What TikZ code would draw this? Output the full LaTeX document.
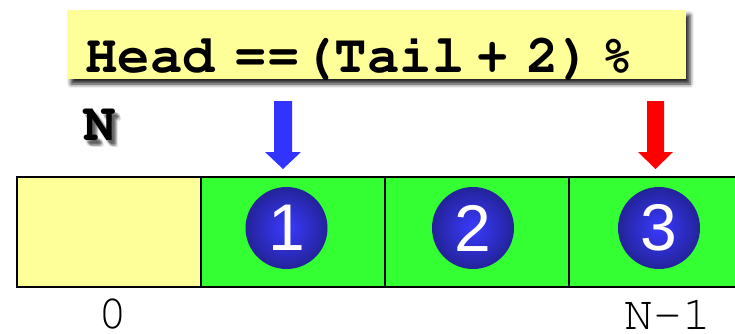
\documentclass[tikz,border=0pt]{standalone}
\usepackage[T1]{fontenc}
\usepackage{fontspec}
\setmainfont{Liberation Sans}
\newcommand{\courb}{\fontencoding{T1}\fontfamily{pcr}\fontseries{b}\selectfont}
\newcommand{\courr}{\fontencoding{T1}\fontfamily{pcr}\fontseries{m}\selectfont}
\usetikzlibrary{shadows.blur}
\definecolor{paleyellow}{HTML}{FFFF99}
\definecolor{brightgreen}{HTML}{33FF33}
\definecolor{ballinner}{HTML}{3A3AFF}
\definecolor{ballouter}{HTML}{23239A}
\definecolor{arrowblue}{HTML}{3333FF}
\definecolor{arrowred}{HTML}{FF0000}
\begin{document}
\begin{tikzpicture}[x=1pt,y=-1pt,
  cellbox/.style={draw=black, line width=2pt, minimum width=184pt, minimum height=110pt, inner sep=0pt, outer sep=0pt},
  ballnode/.style={circle, minimum size=82pt, inner sep=0pt, inner color=ballinner, outer color=ballouter, text=white, font=\fontsize{66}{66}\selectfont},
  idxlabel/.style={font=\fontsize{48}{48}\courr, inner sep=0pt},
  exprbox/.style={fill=paleyellow, minimum width=619pt, minimum height=69pt, inner sep=0pt,
     blur shadow={shadow xshift=4pt, shadow yshift=-5pt, shadow blur radius=4pt, shadow opacity=85}},
  exprtext/.style={font=\fontsize{54}{54}\courb, inner sep=0pt, anchor=base west}
]
\useasboundingbox (0,0) rectangle (735,333);
% expression box
\node[exprbox] (hb) at (376.5,44.5) {};
\node[exprtext] (expr) at (85,72) {Head\hspace{20pt}==\hspace{3pt}(Tail\hspace{12pt}+\hspace{18pt}2)\hspace{10pt}\%};
% N with shadow
\foreach \dx/\dy in {3/4,5/4,3/6,5/6,4/5,6/7,2/3}
  \node[exprtext, text=black, opacity=0.13] at (83+\dx,140+\dy) {N};
\node[exprtext] (nlabel) at (83,140) {N};
% cells
\node[cellbox, fill=paleyellow] (c0) at (108.5,232) {};
\node[cellbox, fill=brightgreen] (c1) at (292.5,232) {};
\node[cellbox, fill=brightgreen] (c2) at (476.5,232) {};
\node[cellbox, fill=brightgreen] (c3) at (660.5,232) {};
% balls
\node[ballnode] (b1) at (286.5,228) {1};
\node[ballnode] (b2) at (473,228) {2};
\node[ballnode] (b3) at (659,228) {3};
% index labels
\node[idxlabel] (l0) at (113,314) {0};
\node[idxlabel] (ln) at (668,315) {N-1};
% arrows
\fill[arrowblue] (274,101) -- (292,101) -- (292,152) -- (301,152) -- (283,169) -- (265,152) -- (274,152) -- cycle;
\fill[arrowred] (647,101) -- (664,101) -- (664,152) -- (673,152) -- (655.5,169) -- (638,152) -- (647,152) -- cycle;
\end{tikzpicture}
\end{document}
